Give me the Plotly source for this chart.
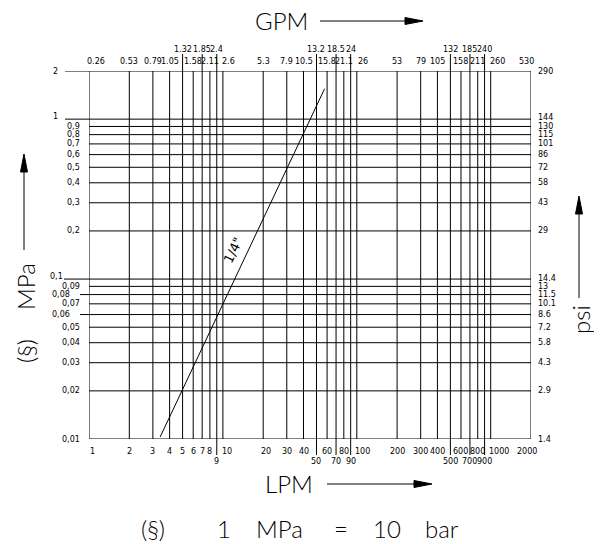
import math
import plotly.graph_objects as go

# ---------------- data ----------------
lpm_ticks = [1, 2, 3, 4, 5, 6, 7, 8, 9, 10, 20, 30, 40, 50, 60, 70, 80, 90,
             100, 200, 300, 400, 500, 600, 700, 800, 900, 1000, 2000]
lpm_labels = ["1", "2", "3", "4", "5", "6", "7", "8", "9", "10", "20", "30", "40", "50",
              "60", "70", "80", "90", "100", "200", "300", "400", "500", "600", "700",
              "800", "900", "1000", "2000"]
gpm_labels = ["0.26", "0.53", "0.79", "1.05", "1.32", "1.58", "1.85", "2.11", "2.4", "2.6",
              "5.3", "7.9", "10.5", "13.2", "15.8", "18.5", "21.1", "24", "26", "53", "79",
              "105", "132", "158", "185", "211", "240", "260", "530"]

mpa_ticks = [2, 1, 0.9, 0.8, 0.7, 0.6, 0.5, 0.4, 0.3, 0.2, 0.1, 0.09, 0.08, 0.07, 0.06,
             0.05, 0.04, 0.03, 0.02, 0.01]
mpa_labels = ["2", "1", "0,9", "0,8", "0,7", "0,6", "0,5", "0,4", "0,3", "0,2", "0,1",
              "0,09", "0,08", "0,07", "0,06", "0,05", "0,04", "0,03", "0,02", "0,01"]
psi_labels = ["290", "144", "130", "115", "101", "86", "72", "58", "43", "29", "14.4",
              "13", "11.5", "10.1", "8.6", "7.2", "5.8", "4.3", "2.9", "1.4"]

# characteristic line 1/4"
line_lpm = [3.4, 57.5]
line_mpa = [0.0103, 1.55]
line_name = '1/4"'
line_label_lpm = 12.1
line_label_mpa = 0.152

# ---------------- layout helpers ----------------
OFF = 8                      # page body margin of the browser
W, H = 602 - OFF, 544 - OFF
RL, RR, RT, RB = 89, 531, 71, 439          # plot box in window pixels
L, R, T, B = RL - OFF, RR - OFF, RT - OFF, RB - OFF


def PX(px):
    return (px - RL) / (RR - RL)


def PY(py):
    return (RB - py) / (RB - RT)


top_raised = {5, 7, 9, 50, 70, 90, 500, 700, 900}
bottom_lowered = {9, 50, 70, 90, 500, 700, 900}
top_shift = {1: 7, 10: 6, 100: 6, 1000: 7, 2000: -5}
bottom_shift = {1: 3, 10: 4, 20: 3, 100: 6, 1000: 8, 2000: -4}
left_ext = {2: 65, 1: 65, 0.1: 64, 0.08: 80, 0.06: 80}
left_label = {2: (59, 0), 1: (59, -3), 0.1: (64, -3), 0.08: (71, 0), 0.06: (71, 0)}
right_shift = {1: 2, 0.1: 1}

small = dict(family="DejaVu Sans", size=8, color="black")
big = dict(family="Lato", size=24, color="black", weight=300)

fig = go.Figure()
fig.add_trace(go.Scatter(x=line_lpm, y=line_mpa, mode="lines",
                         line=dict(color="black", width=1), hoverinfo="skip",
                         showlegend=False))

shapes = []
for v in lpm_ticks:
    y0 = PY(455) if v in bottom_lowered else 0
    y1 = PY(54) if v in top_raised else 1
    shapes.append(dict(type="line", xref="x", yref="paper", x0=v, x1=v, y0=y0, y1=y1,
                       line=dict(color="black", width=1)))
for v in mpa_ticks:
    x0 = PX(left_ext[v]) if v in left_ext else 0
    shapes.append(dict(type="line", xref="paper", yref="y", x0=x0, x1=1, y0=v, y1=v,
                       line=dict(color="black", width=1)))


def arrow(x0, y0, x1, y1, hl=18, hw=3.5):
    dx, dy = x1 - x0, y1 - y0
    d = math.hypot(dx, dy)
    ux, uy = dx / d, dy / d
    bx, by = x1 - ux * hl, y1 - uy * hl
    px_, py_ = -uy * hw, ux * hw
    shapes.append(dict(type="line", xref="paper", yref="paper",
                       x0=PX(x0), y0=PY(y0), x1=PX(bx + ux * 2), y1=PY(by + uy * 2),
                       line=dict(color="black", width=1)))
    path = "M {:.5f},{:.5f} L {:.5f},{:.5f} L {:.5f},{:.5f} Z".format(
        PX(bx + px_), PY(by + py_), PX(x1), PY(y1), PX(bx - px_), PY(by - py_))
    shapes.append(dict(type="path", xref="paper", yref="paper", path=path,
                       fillcolor="black", line=dict(color="black", width=1)))


arrow(320, 21, 423, 21)
arrow(327, 484, 432, 484)
arrow(24, 250, 24, 154)
arrow(579, 298, 579, 196)

ann = []
for v, lt, lb in zip(lpm_ticks, gpm_labels, lpm_labels):
    ann.append(dict(x=math.log10(v), xref="x", yref="paper",
                    y=PY(50) if v in top_raised else PY(61),
                    text=lt, showarrow=False, font=small, xanchor="center",
                    yanchor="middle", xshift=top_shift.get(v, 0), borderpad=0))
    ann.append(dict(x=math.log10(v), xref="x", yref="paper",
                    y=PY(461) if v in bottom_lowered else PY(451),
                    text=lb, showarrow=False, font=small, xanchor="center",
                    yanchor="middle", xshift=bottom_shift.get(v, 0), borderpad=0))
for v, ml, pl in zip(mpa_ticks, mpa_labels, psi_labels):
    lx, ys = left_label.get(v, (81, 0))
    ann.append(dict(y=math.log10(v), yref="y", xref="paper", x=PX(lx), text=ml,
                    showarrow=False, font=small, xanchor="right", yanchor="middle",
                    yshift=-ys, borderpad=0))
    ann.append(dict(y=math.log10(v), yref="y", xref="paper", x=PX(537), text=pl,
                    showarrow=False, font=small, xanchor="left", yanchor="middle",
                    yshift=right_shift.get(v, 0), borderpad=0))

ann.append(dict(x=math.log10(line_label_lpm), y=math.log10(line_label_mpa), xref="x",
                yref="y", text=line_name, showarrow=False, textangle=-64.6,
                font=dict(family="DejaVu Sans", size=13, color="black")))

for txt, cx, cy, ang in [("GPM", 281, 20, 0), ("LPM", 289, 483, 0),
                         ("(§)", 153, 528, 0), ("1", 224, 528, 0), ("MPa", 279, 528, 0),
                         ("=", 341, 528, 0), ("10", 387, 528, 0), ("bar", 442, 528, 0),
                         ("MPa", 25, 287, -90), ("(§)", 25, 351, -90),
                         ("psi", 580, 320, -90)]:
    ann.append(dict(x=PX(cx), y=PY(cy), xref="paper", yref="paper", text=txt,
                    showarrow=False, font=big, textangle=ang, xanchor="center",
                    yanchor="middle", borderpad=0))

fig.update_layout(
    width=W, height=H,
    margin=dict(l=L, r=W - R, t=T, b=H - B, pad=0),
    paper_bgcolor="white", plot_bgcolor="white",
    xaxis=dict(type="log", range=[0, math.log10(2000)], visible=False, fixedrange=True),
    yaxis=dict(type="log", range=[-2, math.log10(2)], visible=False, fixedrange=True),
    shapes=shapes, annotations=ann, showlegend=False,
)
fig.write_html("out.html")
